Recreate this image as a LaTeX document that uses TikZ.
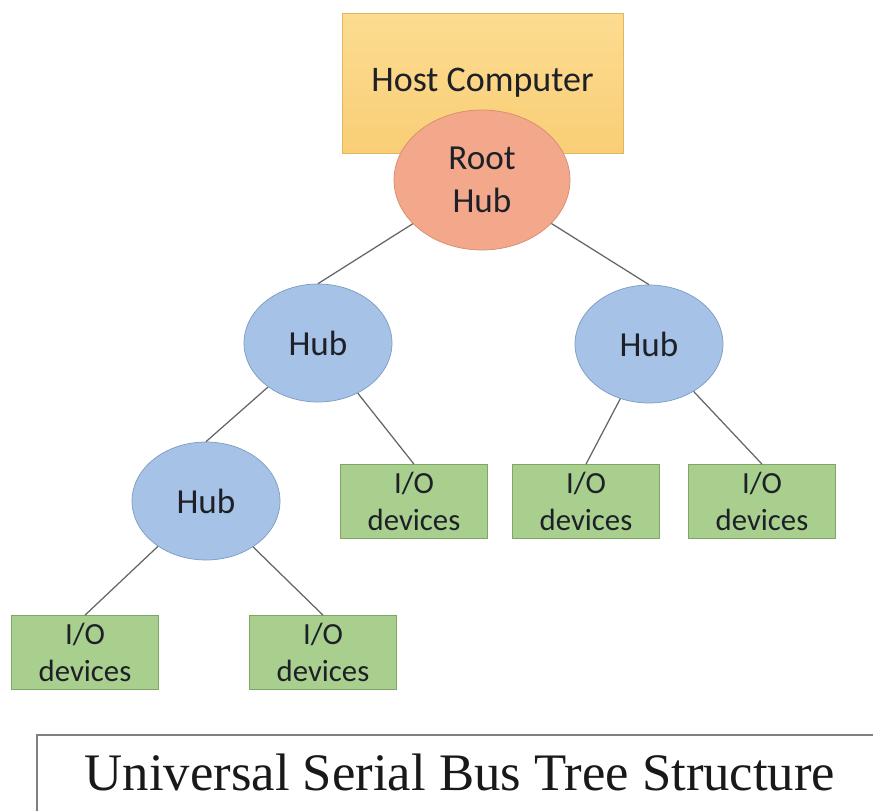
\documentclass[tikz,border=0pt]{standalone}
\usepackage{fontspec}
\setmainfont{Carlito}
\newfontfamily\titlefont{Liberation Serif}
\usetikzlibrary{shapes.geometric}
\definecolor{hostfill}{RGB}{249,206,118}
\definecolor{hosttop}{RGB}{252,220,145}
\definecolor{hostline}{RGB}{226,182,92}
\definecolor{rootfill}{RGB}{243,168,140}
\definecolor{rootline}{RGB}{214,140,108}
\definecolor{hubfill}{RGB}{166,194,230}
\definecolor{hubline}{RGB}{124,156,196}
\definecolor{iofill}{RGB}{168,207,141}
\definecolor{ioline}{RGB}{128,166,100}
\definecolor{wire}{RGB}{100,100,100}
\definecolor{ink}{RGB}{30,32,40}

\tikzset{
  hub/.style={ellipse, draw=hubline, fill=hubfill, minimum width=2.96cm, minimum height=2.36cm, inner sep=0pt, text=ink, font=\fontsize{20}{24}\selectfont},
  iobox/.style={rectangle, draw=ioline, fill=iofill, minimum width=2.94cm, minimum height=1.48cm, inner sep=0pt, align=center, text=ink, font=\fontsize{17.5}{21.5}\selectfont},
  wireline/.style={draw=wire, line width=0.7pt}
}

\begin{document}
\begin{tikzpicture}[x=0.02cm, y=-0.02cm]
\useasboundingbox[fill=white] (0,0) rectangle (873,811);
% host and root
\node[draw=hostline, top color=hosttop, bottom color=hostfill, minimum width=5.62cm, minimum height=2.8cm, text=ink, font=\fontsize{20.5}{24}\selectfont] (host) at (482.5,83) {Host Computer};
\node[ellipse, draw=rootline, fill=rootfill, minimum width=3.52cm, minimum height=2.8cm, inner sep=0pt, align=center, text=ink, font=\fontsize{20}{24.5}\selectfont] (root) at (482,180) {Root\\Hub};
% hubs
\node[hub] (hubL) at (318,343) {Hub};
\node[hub] (hubR) at (649,344) {Hub};
\node[hub] (hubLL) at (206,501) {Hub};
% I/O devices
\node[iobox] (io1) at (414,501.5) {I/O\\devices};
\node[iobox] (io2) at (586,501.5) {I/O\\devices};
\node[iobox] (io3) at (762,501.5) {I/O\\devices};
\node[iobox] (io4) at (85,652.5) {I/O\\devices};
\node[iobox] (io5) at (323,652.5) {I/O\\devices};
% links
\draw[wireline] (root)--(hubL.north);
\draw[wireline] (root)--(hubR.north);
\draw[wireline] (hubL)--(hubLL.north);
\draw[wireline] (hubL)--(io1.north);
\draw[wireline] (hubR)--(io2.north);
\draw[wireline] (hubR)--(io3.north);
\draw[wireline] (hubLL)--(io4.north);
\draw[wireline] (hubLL)--(io5.north);
% caption
\draw[draw=gray, line width=1pt] (37,735) rectangle (890,830);
\node[font=\titlefont\fontsize{30}{34}\selectfont, text=black!90] (caption) at (460,772) {Universal Serial Bus Tree Structure};
\end{tikzpicture}
\end{document}
